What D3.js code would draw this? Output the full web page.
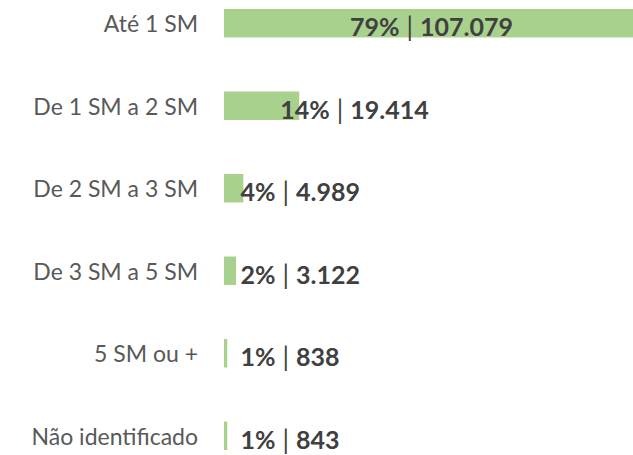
<!DOCTYPE html>
<html>
<head>
<meta charset="utf-8">
<script src="https://cdn.jsdelivr.net/npm/d3@7"></script>
<style>
  html, body { margin: 0; padding: 0; background: #fff; }
  svg { display: block; }
</style>
</head>
<body>
<svg id="chart" width="633" height="455"></svg>
<script>
// faixas salariais
const categories = ['Até 1 SM', 'De 1 SM a 2 SM', 'De 2 SM a 3 SM', 'De 3 SM a 5 SM', '5 SM ou +', 'Não identificado'];
const counts = [107079, 19414, 4989, 3122, 838, 843];
const percents = ['79%', '14%', '4%', '2%', '1%', '1%'];

const W = 633, H = 455;
const svg = d3.select('#chart');

const y = d3.scaleBand()
  .domain(categories)
  .range([9, 450])
  .paddingInner(0.655)
  .paddingOuter(0);

const x = d3.scaleLinear()
  .domain([0, d3.max(counts)])
  .range([224, 639]);

const fmt = d3.formatLocale({ decimal: ',', thousands: '.', grouping: [3], currency: ['R$', ''] }).format(',d');

const rows = categories.map((c, i) => ({ cat: c, v: counts[i], pct: percents[i] }));

// bars
svg.append('g')
  .selectAll('rect')
  .data(rows)
  .join('rect')
  .attr('x', x(0))
  .attr('y', d => y(d.cat))
  .attr('width', d => x(d.v) - x(0))
  .attr('height', y.bandwidth())
  .attr('fill', '#a9d18e');

// category labels
svg.append('g')
  .selectAll('text')
  .data(rows)
  .join('text')
  .attr('x', 198)
  .attr('y', d => y(d.cat) + y.bandwidth() / 2 + 9)
  .attr('text-anchor', 'end')
  .attr('font-family', 'Lato, sans-serif')
  .attr('font-size', 23)
  .attr('fill', '#595959')
  .text(d => d.cat);

// value labels: centred in wide bars, otherwise just past the bar end
const isWide = d => x(d.v) - x(0) > 200;
const labels = svg.append('g')
  .selectAll('text')
  .data(rows)
  .join('text')
  .attr('x', d => isWide(d) ? (x(0) + x(d.v)) / 2 : Math.max(x(0) + 16.5, x(d.v) - 19))
  .attr('y', d => y(d.cat) + y.bandwidth() - 1)
  .attr('text-anchor', d => isWide(d) ? 'middle' : 'start')
  .attr('font-family', 'Lato, sans-serif')
  .attr('font-weight', 'bold')
  .attr('font-size', 25)
  .attr('fill', '#404040');

labels.append('tspan').text(d => d.pct);
labels.append('tspan')
  .attr('dx', 7)
  .attr('font-weight', 'normal')
  .attr('font-size', 26)
  .text('|');
labels.append('tspan')
  .attr('dx', 7)
  .text(d => fmt(d.v));
</script>
</body>
</html>
